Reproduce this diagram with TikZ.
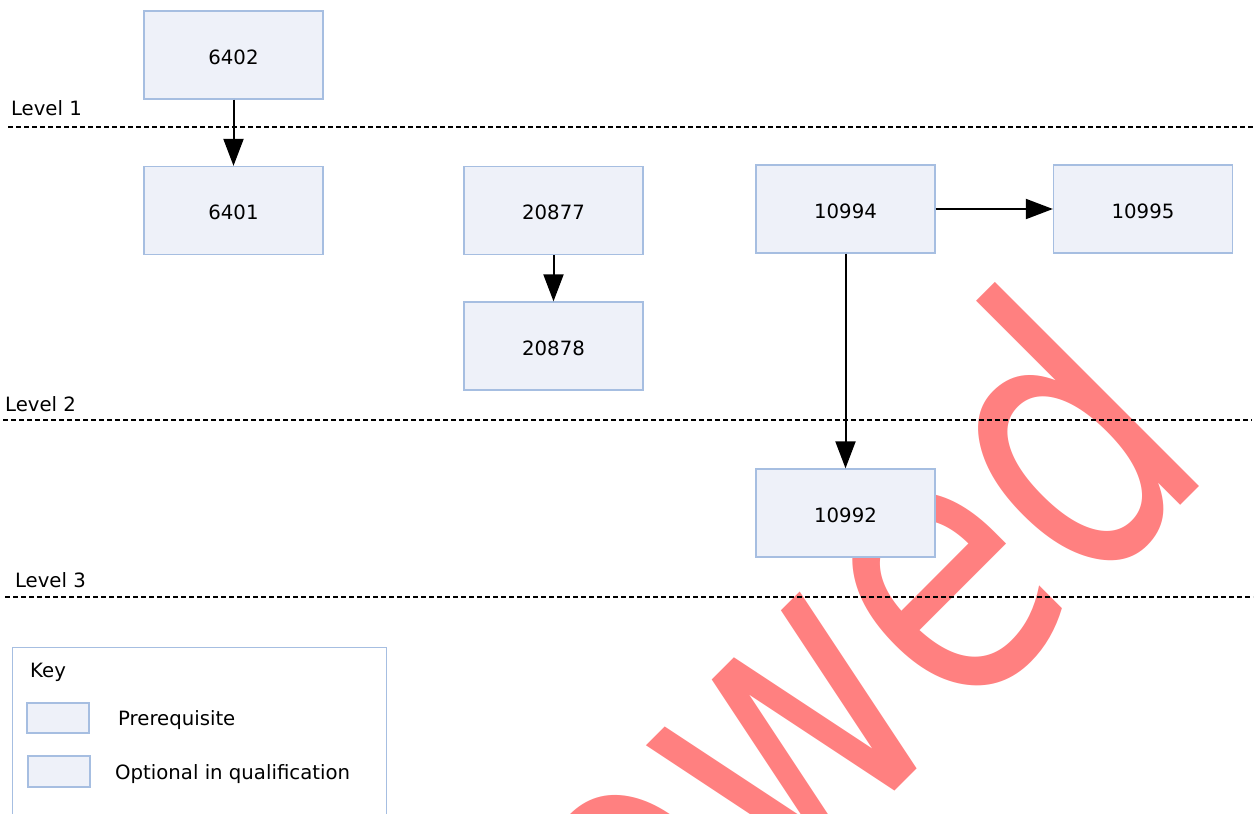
\documentclass[tikz,border=0pt]{standalone}
\usepackage{fontspec}
\setmainfont{DejaVu Sans}
\usetikzlibrary{arrows.meta}
\definecolor{boxfill}{RGB}{238,241,249}
\definecolor{boxline}{RGB}{166,190,225}
\definecolor{wmark}{RGB}{255,128,128}
\begin{document}
\begin{tikzpicture}[x=1pt,y=-1pt,
  unit/.style={draw=boxline, fill=boxfill, line width=1.3pt, minimum width=179pt, minimum height=88pt, inner sep=0pt, text height=18pt, text depth=0pt, font=\fontsize{19.7}{23}\selectfont},
  keybox/.style={draw=boxline, fill=boxfill, line width=1.3pt, minimum width=62pt, minimum height=30pt, inner sep=0pt},
  lbl/.style={anchor=base west, inner sep=0pt, font=\fontsize{19.7}{23}\selectfont},
  levelline/.style={dash pattern=on 5pt off 3pt, line width=1.5pt},
  arr/.style={line width=2pt, -{Triangle[length=27pt,width=20pt]}}]
\useasboundingbox (0,0) rectangle (1256,814);
\fill[white] (0,0) rectangle (1256,814);
\begin{scope}
\clip (0,0) rectangle (1256,814);
\node[anchor=base west, inner sep=0pt, rotate=45, text=wmark, font=\fontsize{380}{400}\selectfont] (wm) at (656.5,1029.5) {\scalebox{0.78}[1]{owed}};
\end{scope}
% level lines
\coordinate (l1a) at (8,127); \coordinate (l1b) at (1256,127);
\coordinate (l2a) at (3,420); \coordinate (l2b) at (1252,420);
\coordinate (l3a) at (5,597); \coordinate (l3b) at (1253,597);
\draw[levelline] (l1a) -- (l1b);
\draw[levelline] (l2a) -- (l2b);
\draw[levelline] (l3a) -- (l3b);
\node[lbl] (lev1) at (10.8,115.5) {Level 1};
\node[lbl] (lev2) at (5,411) {Level 2};
\node[lbl] (lev3) at (14.8,587.3) {Level 3};
% units
\node[unit] (n6402) at (233.5,55) {6402};
\node[unit] (n6401) at (233.5,210.5) {6401};
\node[unit] (n20877) at (553.5,210.5) {20877};
\node[unit] (n20878) at (553.5,346) {20878};
\node[unit] (n10994) at (845.5,209) {10994};
\node[unit] (n10995) at (1143,209) {10995};
\node[unit] (n10992) at (845.5,513) {10992};
% arrows
\draw[arr] (n6402.south) -- (n6401.north);
\draw[arr] (n20877.south) -- (n20878.north);
\draw[arr] (n10994.east) -- (n10995.west);
\draw[arr] (n10994.south) -- (n10992.north);
% key
\node[draw=boxline, line width=1.3pt, minimum width=374pt, minimum height=200pt, anchor=north west, inner sep=0pt] (key) at (12,647) {};
\node[lbl] (keyt) at (30,677) {Key};
\node[keybox] (kpre) at (58,718) {};
\node[keybox, minimum height=31pt] (kopt) at (59,771.5) {};
\node[lbl] (tpre) at (118,725) {Prerequisite};
\node[lbl] (topt) at (115,779) {Optional in qualification};
\end{tikzpicture}
\end{document}
